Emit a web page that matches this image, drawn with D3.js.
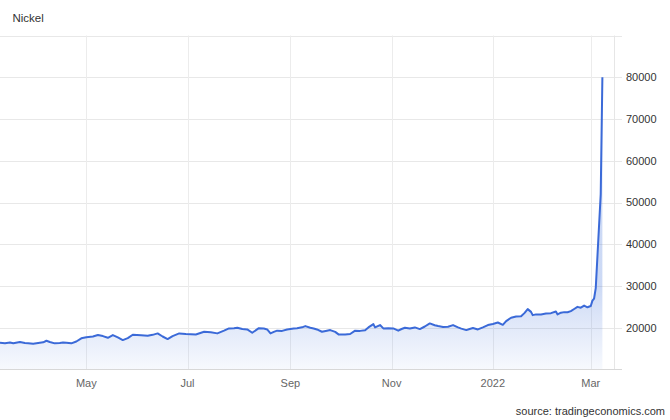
<!DOCTYPE html>
<html>
<head>
<meta charset="utf-8">
<script src="https://cdn.jsdelivr.net/npm/d3@7"></script>
<style>
  html, body { margin: 0; padding: 0; background: #fff; }
  svg { display: block; font-family: "Liberation Sans", Arial, sans-serif; }
</style>
</head>
<body>
<svg id="chart" width="670" height="420"></svg>
<script>
const title = "Nickel";
const source = "source: tradingeconomics.com";

const dates = [
  "2021-03-10","2021-03-13","2021-03-16","2021-03-18","2021-03-22","2021-03-25","2021-03-27","2021-03-30",
  "2021-04-02","2021-04-05","2021-04-07","2021-04-09","2021-04-12","2021-04-15","2021-04-17","2021-04-19",
  "2021-04-22","2021-04-25","2021-04-28","2021-05-01","2021-05-05","2021-05-08","2021-05-11","2021-05-14",
  "2021-05-17","2021-05-20","2021-05-23","2021-05-26","2021-05-29","2021-06-03","2021-06-07","2021-06-10",
  "2021-06-13","2021-06-16","2021-06-19","2021-06-22","2021-06-26","2021-06-30","2021-07-06","2021-07-11",
  "2021-07-15","2021-07-19","2021-07-23","2021-07-26","2021-07-29","2021-07-31","2021-08-03","2021-08-06",
  "2021-08-09","2021-08-13","2021-08-16","2021-08-18","2021-08-20","2021-08-22","2021-08-24","2021-08-27",
  "2021-08-30","2021-09-03","2021-09-05","2021-09-08","2021-09-10","2021-09-13","2021-09-15","2021-09-17",
  "2021-09-20","2021-09-23","2021-09-25","2021-09-28","2021-09-30","2021-10-04","2021-10-07","2021-10-10",
  "2021-10-13","2021-10-16","2021-10-18","2021-10-21","2021-10-22","2021-10-25","2021-10-27","2021-10-30",
  "2021-11-02","2021-11-05","2021-11-07","2021-11-09","2021-11-12","2021-11-15","2021-11-18","2021-11-21",
  "2021-11-24","2021-11-27","2021-11-29","2021-12-02","2021-12-05","2021-12-08","2021-12-11","2021-12-13",
  "2021-12-16","2021-12-18","2021-12-20","2021-12-23","2021-12-26","2021-12-29","2022-01-01","2022-01-04",
  "2022-01-07","2022-01-09","2022-01-12","2022-01-15","2022-01-18","2022-01-20","2022-01-22","2022-01-24",
  "2022-01-25","2022-01-27","2022-01-30","2022-02-02","2022-02-05","2022-02-08","2022-02-09","2022-02-11",
  "2022-02-13","2022-02-15","2022-02-17","2022-02-19","2022-02-21","2022-02-23","2022-02-25","2022-02-27",
  "2022-03-01","2022-03-02","2022-03-03","2022-03-04","2022-03-07","2022-03-08"
];

const prices = [
  16400,16300,16450,16300,16570,16350,16300,16170,
  16350,16500,16890,16600,16260,16350,16450,16400,
  16260,16700,17460,17700,17900,18250,18000,17600,
  18250,17700,17050,17500,18320,18200,18080,18300,
  18650,17900,17300,18000,18650,18500,18400,19040,
  18900,18650,19300,19840,19900,20000,19700,19600,
  18800,19900,19800,19600,18650,19000,19300,19250,
  19600,19800,19900,20100,20400,20000,19840,19600,
  19040,19300,19440,19000,18410,18400,18500,19300,
  19250,19400,20080,20870,20080,20640,19840,19900,
  19840,19300,19700,20000,19800,20080,19680,20300,
  21040,20600,20400,20200,20240,20640,20080,19800,
  19440,19700,19920,19600,20100,20640,20900,21250,
  20700,21600,22400,22700,22750,23500,24460,23800,
  23020,23200,23180,23400,23500,23900,23200,23600,
  23740,23700,23980,24500,25000,24800,25300,24900,
  25200,26500,27000,29500,52000,80000
];

const yTicks = [20000, 30000, 40000, 50000, 60000, 70000, 80000];
const xTickDates = ["2021-05-01","2021-07-01","2021-09-01","2021-11-01","2022-01-01","2022-03-01"];
const xTickLabels = ["May","Jul","Sep","Nov","2022","Mar"];
const xDomain = ["2021-03-10","2022-03-15"];
const yDomain = [10000, 90000];

(function () {
const parse = d3.timeParse("%Y-%m-%d");
const data = dates.map((d, i) => ({ date: parse(d), value: prices[i] }));

const svg = d3.select("#chart");
const pLeft = 0, pRight = 614, pTop = 35.5, pBottom = 369.5, gridEnd = 622;

const x = d3.scaleTime().domain(xDomain.map(parse)).range([pLeft, pRight]);
const y = d3.scaleLinear().domain(yDomain).range([pBottom, pTop]);

svg.append("text").attr("x", 12.5).attr("y", 18).attr("dy", "0.35em")
  .attr("font-size", 11.5).attr("fill", "#333").text(title);

const defs = svg.append("defs");
const grad = defs.append("linearGradient").attr("id", "fillGrad")
  .attr("gradientUnits", "userSpaceOnUse")
  .attr("x1", 0).attr("x2", 0).attr("y1", y(30000)).attr("y2", pBottom);
grad.append("stop").attr("offset", 0).attr("stop-color", "#3d6fd9").attr("stop-opacity", 0.26);
grad.append("stop").attr("offset", 1).attr("stop-color", "#3d6fd9").attr("stop-opacity", 0.04);

const hTicks = d3.range(yDomain[0] + 10000, yDomain[1] + 1, 10000);
svg.append("g").selectAll("line").data(hTicks).join("line")
  .attr("x1", pLeft).attr("x2", gridEnd)
  .attr("y1", d => Math.round(y(d)) + 0.5).attr("y2", d => Math.round(y(d)) + 0.5)
  .attr("stroke", "#e8e8e8").attr("stroke-width", 1);

svg.append("g").selectAll("line").data(xTickDates.map(parse)).join("line")
  .attr("x1", d => Math.round(x(d)) + 0.5).attr("x2", d => Math.round(x(d)) + 0.5)
  .attr("y1", pTop).attr("y2", pBottom)
  .attr("stroke", "#ececec").attr("stroke-width", 1);

svg.append("line").attr("x1", pRight + 0.5).attr("x2", pRight + 0.5)
  .attr("y1", pTop).attr("y2", pBottom).attr("stroke", "#e6e6e6");

const area = d3.area().x(d => x(d.date)).y0(pBottom).y1(d => y(d.value));
const line = d3.line().x(d => x(d.date)).y(d => y(d.value));
svg.append("path").datum(data).attr("d", area).attr("fill", "url(#fillGrad)");
svg.append("path").datum(data).attr("d", line)
  .attr("fill", "none").attr("stroke", "#3b6ad8").attr("stroke-width", 2)
  .attr("stroke-linejoin", "round");

svg.append("line").attr("x1", pLeft).attr("x2", gridEnd)
  .attr("y1", pBottom).attr("y2", pBottom).attr("stroke", "#d8d8d8");

svg.append("g").selectAll("text").data(xTickDates).join("text")
  .attr("x", d => x(parse(d))).attr("y", 383).attr("dy", "0.35em")
  .attr("text-anchor", "middle").attr("font-size", 11).attr("fill", "#666")
  .text((d, i) => xTickLabels[i]);

svg.append("g").selectAll("text").data(yTicks).join("text")
  .attr("x", 626).attr("y", d => y(d)).attr("dy", "0.35em")
  .attr("font-size", 11).attr("fill", "#333")
  .text(d => d3.format("d")(d));

svg.append("text").attr("x", 665).attr("y", 411).attr("dy", "0.35em")
  .attr("text-anchor", "end").attr("font-size", 11).attr("fill", "#333").text(source);
})();
</script>
</body>
</html>
